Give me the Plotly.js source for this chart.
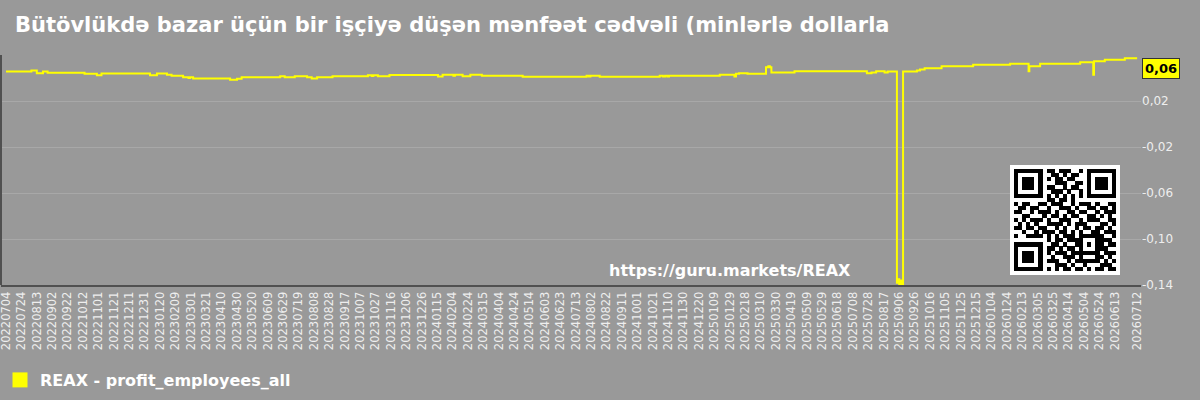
<!DOCTYPE html>
<html>
<head>
<meta charset="utf-8">
<script src="https://cdn.plot.ly/plotly-3.0.1.min.js"></script>
<style>
  html, body { margin: 0; padding: 0; background: #999999; }
  #chart { width: 1200px; height: 400px; }
</style>
</head>
<body>
<div id="chart"></div>
<script>
// ---- data ----
const chartTitle = "Bütövlükdə bazar üçün bir işçiyə düşən mənfəət cədvəli (minlərlə dollarla";
const seriesName = "REAX - profit_employees_all";
const watermark = "https://guru.markets/REAX";

const dates = [
  "2022-07-04","2022-08-06","2022-08-13","2022-08-21","2022-08-27","2022-10-14","2022-10-30","2022-11-05",
  "2023-01-07","2023-01-16","2023-01-29","2023-02-04","2023-02-19","2023-02-26","2023-02-28","2023-03-04",
  "2023-04-21","2023-04-30","2023-05-06","2023-06-25","2023-07-01","2023-07-14","2023-07-30","2023-08-05",
  "2023-08-12","2023-09-01","2023-10-17","2023-10-22","2023-10-24","2023-10-30","2023-11-14",
  "2024-01-16","2024-01-22","2024-02-05","2024-02-07","2024-02-17","2024-02-27","2024-03-13","2024-05-05",
  "2024-07-27","2024-07-30","2024-08-01","2024-08-13","2024-10-30","2024-11-03","2024-11-06","2024-11-09",
  "2024-11-11","2025-01-16","2025-02-04","2025-02-06","2025-02-10","2025-02-21","2025-03-17","2025-03-20",
  "2025-03-22","2025-03-24","2025-04-23","2025-07-26","2025-08-01","2025-08-07","2025-08-18","2025-08-22",
  "2025-09-03","2025-09-05","2025-09-06","2025-09-08","2025-09-09","2025-09-11","2025-09-29","2025-10-03",
  "2025-10-09","2025-10-31","2025-12-11","2026-01-28","2026-02-21","2026-02-22","2026-03-08","2026-04-29",
  "2026-05-16","2026-05-17","2026-05-31","2026-06-26","2026-07-12"
];
const values = [
  0.0457,0.0465,0.0442,0.0457,0.0445,0.0436,0.0425,0.0439,
  0.0425,0.0439,0.0428,0.0419,0.0407,0.0399,0.0407,0.0396,
  0.0384,0.0393,0.0407,0.0416,0.0407,0.0416,0.0407,0.0396,
  0.0407,0.0416,0.0425,0.0418,0.0425,0.0416,0.0426,
  0.0413,0.0428,0.0420,0.0428,0.0416,0.0428,0.0419,0.0410,
  0.0419,0.0412,0.0419,0.0410,0.0419,0.0412,0.0419,0.0413,
  0.0419,0.0428,0.0413,0.0436,0.0442,0.0436,0.0494,0.0503,
  0.0494,0.0448,0.0458,0.0442,0.0448,0.0459,0.0448,0.0457,
  -0.1380,-0.1350,-0.1410,-0.1360,-0.1400,0.0457,0.0465,0.0474,
  0.0485,0.0503,0.0515,0.0523,0.0459,0.0503,0.0523,0.0538,
  0.0428,0.0546,0.0558,0.0572,0.0572
];

const xTickLabels = [
  "20220704","20220724","20220813","20220902","20220922","20221012","20221101","20221121","20221211","20221231",
  "20230120","20230209","20230301","20230321","20230410","20230430","20230520","20230609","20230629","20230719",
  "20230808","20230828","20230917","20231007","20231027","20231116","20231206","20231226","20240115","20240204",
  "20240224","20240315","20240404","20240424","20240514","20240603","20240623","20240713","20240802","20240822",
  "20240911","20241001","20241021","20241110","20241130","20241220","20250109","20250129","20250218","20250310",
  "20250330","20250419","20250509","20250529","20250618","20250708","20250728","20250817","20250906","20250926",
  "20251016","20251105","20251125","20251215","20260104","20260124","20260213","20260305","20260325","20260414",
  "20260504","20260524","20260613","20260712"
];
const yTickVals = [-0.14, -0.10, -0.06, -0.02, 0.02, 0.06];
const yTickText = ["-0,14", "-0,10", "-0,06", "-0,02", "0,02", ""];

// QR-like decoration (module rows)
const qrRows = [
  "1111111011011100101111111",
  "1000001001101011001000001",
  "1011101010110110001011101",
  "1011101000111001101011101",
  "1011101011001011001011101",
  "1000001001110100101000001",
  "1111111010101010101111111",
  "0000000011011010000000000",
  "1011001101110010111010011",
  "0110110010011101001101101",
  "1100101110100110110010111",
  "0011000101101011001101010",
  "1010111010011100101110011",
  "0101010011110101110001101",
  "1101101100101001011011010",
  "0010010111011010100110111",
  "1001111010101110111111001",
  "0000000010110111100011110",
  "1111111001101001101011011",
  "1000001011010110100011100",
  "1011101010111011111110111",
  "1011101001001110100011010",
  "1011101011100101111110101",
  "1000001000111010010001110",
  "1111111010101101101011011"
];

// ---- build ----
const toIso = s => s.slice(0,4) + "-" + s.slice(4,6) + "-" + s.slice(6,8);
const xTickVals = xTickLabels.map(toIso);

function qrDataUri(rows) {
  const n = rows.length, size = n + 2;
  let rects = "";
  rows.forEach((r, i) => {
    for (let j = 0; j < r.length; j++) {
      if (r[j] === "1") rects += `<rect x="${j+1}" y="${i+1}" width="1.02" height="1.02"/>`;
    }
  });
  const svg = `<svg xmlns="http://www.w3.org/2000/svg" viewBox="0 0 ${size} ${size}" width="${size*10}" height="${size*10}" shape-rendering="crispEdges"><rect width="${size}" height="${size}" fill="#fff"/><g fill="#000">${rects}</g></svg>`;
  return "data:image/svg+xml;base64," + btoa(svg);
}

const lastVal = values[values.length - 1];

const traces = [
  {
    type: "scatter", mode: "lines", x: dates, y: values,
    line: { color: "#ffff00", width: 2, shape: "hv" },
    showlegend: false, hoverinfo: "skip"
  },
  {
    type: "scatter", mode: "markers", x: [null], y: [null],
    name: seriesName,
    marker: { symbol: "square", color: "#ffff00", size: 15 },
    showlegend: true, hoverinfo: "skip"
  }
];

const font = "DejaVu Sans, Liberation Sans, sans-serif";

const layout = {
  width: 1200, height: 400,
  paper_bgcolor: "#999999", plot_bgcolor: "#999999",
  margin: { l: 1, r: 59, t: 55, b: 115, autoexpand: false },
  separators: ", ",
  font: { family: font, color: "#eeeeee", size: 11.5 },
  title: {
    text: chartTitle,
    font: { family: font, size: 21, color: "#ffffff", weight: "bold" },
    xref: "container", x: 0.0125, xanchor: "left",
    yref: "container", y: 0.9375, yanchor: "middle"
  },
  xaxis: {
    type: "date",
    range: ["2022-06-27 12:00", "2026-07-17"],
    tickmode: "array", tickvals: xTickVals, ticktext: xTickLabels,
    tickangle: -90, tickfont: { family: font, size: 11.5, color: "#eeeeee" },
    ticklabeloverflow: "allow",
    showgrid: false, zeroline: false,
    showline: true, linecolor: "#505050", linewidth: 2,
    ticks: "", fixedrange: true
  },
  yaxis: {
    range: [-0.14, 0.06], side: "right",
    tickmode: "array", tickvals: yTickVals, ticktext: yTickText,
    tickfont: { family: font, size: 12, color: "#eeeeee" },
    ticklabeloverflow: "allow",
    showgrid: true, gridcolor: "#a8a8a8", gridwidth: 1,
    zeroline: false, showline: false, ticks: "", fixedrange: true
  },
  showlegend: true,
  legend: {
    orientation: "h", xref: "container", yref: "container",
    x: -0.002, xanchor: "left", y: 0.05, yanchor: "middle",
    bgcolor: "rgba(0,0,0,0)",
    font: { family: font, size: 16, color: "#ffffff", weight: "bold" },
    itemwidth: 30
  },
  shapes: [
    { type: "line", xref: "paper", yref: "paper", x0: 0, x1: 0, y0: 0, y1: 1,
      line: { color: "#505050", width: 2 } }
  ],
  annotations: [
    {
      xref: "paper", yref: "y", x: 1, y: lastVal, xanchor: "left", yanchor: "top",
      xshift: 1, text: lastVal.toFixed(2).replace(".", ","), showarrow: false,
      font: { family: font, size: 13, color: "#000000", weight: "bold" },
      bgcolor: "#ffff00", bordercolor: "#333333", borderwidth: 1, borderpad: 2
    },
    {
      xref: "paper", yref: "paper", x: 0.6395, y: 0.065, xanchor: "center", yanchor: "middle",
      text: watermark, showarrow: false,
      font: { family: font, size: 16, color: "#ffffff", weight: "bold" }
    }
  ],
  images: [
    {
      source: qrDataUri(qrRows), xref: "paper", yref: "paper",
      x: 0.885, y: 0.5217, sizex: 0.0965, sizey: 0.478,
      xanchor: "left", yanchor: "top", sizing: "stretch", layer: "above"
    }
  ]
};

Plotly.newPlot("chart", traces, layout, { displayModeBar: false, staticPlot: true });
</script>
</body>
</html>
